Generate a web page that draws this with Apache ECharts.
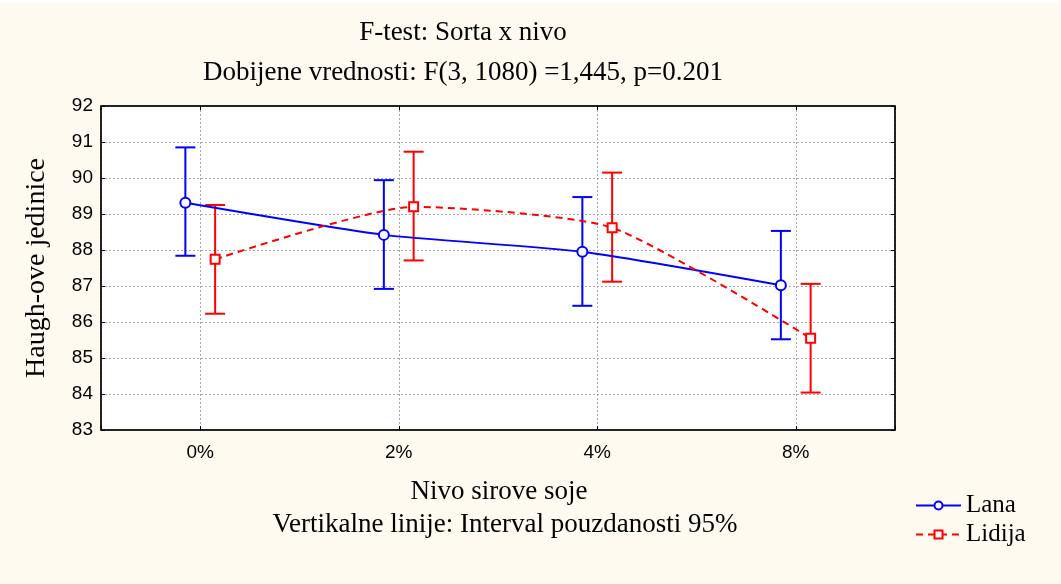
<!DOCTYPE html>
<html>
<head>
<meta charset="utf-8">
<script src="https://cdn.jsdelivr.net/npm/echarts@6/dist/echarts.min.js"></script>
<style>
  html, body { margin: 0; padding: 0; background: #FFFAF0; }
  #chart { width: 1061px; height: 584px; }
</style>
</head>
<body>
<div id="chart"></div>
<script>
// nivo sirove soje (kategorije na x osi)
const levels = ['0%', '2%', '4%', '8%']
const series1 = 'Lana'
const series2 = 'Lidija'
// srednje vrednosti i granice intervala pouzdanosti 95%
const lanaMean = [89.31, 88.42, 87.95, 87.02]
const lanaLow = [87.84, 86.92, 86.45, 85.52]
const lanaHigh = [90.85, 89.94, 89.47, 88.53]
const lidijaMean = [87.74, 89.20, 88.62, 85.55]
const lidijaLow = [86.23, 87.71, 87.12, 84.04]
const lidijaHigh = [89.25, 90.73, 90.15, 87.06]

const yTicks = [83, 84, 85, 86, 87, 88, 89, 90, 91, 92]

// pomeraj tacaka levo/desno od kategorije
const shift = 0.075

const serif = 'Liberation Serif'
const sans = 'Liberation Sans'
const BLUE = '#0000FF'
const RED = '#FF0000'

const chart = echarts.init(document.getElementById('chart'))

function errorBars(color) {
  return function (params, api) {
    const x = api.value(0)
    const lo = api.coord([x, api.value(1)])
    const hi = api.coord([x, api.value(2)])
    const cap = 10
    const style = { stroke: color, lineWidth: 2, fill: null }
    return {
      type: 'group',
      children: [
        { type: 'line', shape: { x1: hi[0], y1: hi[1], x2: lo[0], y2: lo[1] }, style },
        { type: 'line', shape: { x1: hi[0] - cap, y1: hi[1], x2: hi[0] + cap, y2: hi[1] }, style },
        { type: 'line', shape: { x1: lo[0] - cap, y1: lo[1], x2: lo[0] + cap, y2: lo[1] }, style },
      ],
    }
  }
}

const axisLine = { show: true, onZero: false, lineStyle: { color: '#000', width: 1.5 } }
const axisTick = { show: true, inside: true, length: 4, lineStyle: { color: '#000', width: 1 } }
const gridLine = { show: true, lineStyle: { color: '#A8A8A8', type: [2, 2], width: 1 } }
const font = '27px "' + serif + '"'

chart.setOption({
  backgroundColor: '#FFFAF0',
  animation: false,
  grid: {
    left: 101, right: 166, top: 106, bottom: 154,
    show: true, backgroundColor: '#FFFFFF', borderColor: '#000', borderWidth: 1,
  },
  graphic: [
    { type: 'rect', shape: { x: 0, y: 0, width: 1061, height: 3 }, style: { fill: '#FFFFFF' } },
    { type: 'text', x: 463, y: 33, style: { text: 'F-test: Sorta x nivo', font, fill: '#000', align: 'center', verticalAlign: 'middle' } },
    { type: 'text', x: 463, y: 73, style: { text: 'Dobijene vrednosti: F(3, 1080) =1,445, p=0.201', font, fill: '#000', align: 'center', verticalAlign: 'middle' } },
    { type: 'text', x: 499, y: 492, style: { text: 'Nivo sirove soje', font, fill: '#000', align: 'center', verticalAlign: 'middle' } },
    { type: 'text', x: 505, y: 525, style: { text: 'Vertikalne linije: Interval pouzdanosti 95%', font, fill: '#000', align: 'center', verticalAlign: 'middle' } },
    { type: 'text', x: 37, y: 268, rotation: Math.PI / 2, style: { text: 'Haugh-ove jedinice', font: '28px "' + serif + '"', fill: '#000', align: 'center', verticalAlign: 'middle' } },
  ],
  legend: {
    data: [series1, series2],
    orient: 'vertical',
    left: 910,
    top: 488,
    itemWidth: 45,
    itemHeight: 10,
    itemGap: 4,
    textStyle: { fontFamily: serif, fontSize: 25, color: '#000' },
  },
  xAxis: [
    {
      type: 'value', min: -0.5, max: 3.5, splitNumber: 4, position: 'bottom',
      axisLine, axisTick,
      axisLabel: {
        margin: 13, fontFamily: sans, fontSize: 19, color: '#000',
        formatter: (v) => (Number.isInteger(v) && levels[v] !== undefined ? levels[v] : ''),
      },
      splitLine: gridLine,
    },
    {
      type: 'value', min: -0.5, max: 3.5, splitNumber: 4, position: 'top',
      axisLine, axisTick,
      axisLabel: { show: false }, splitLine: { show: false },
    },
  ],
  yAxis: [
    {
      type: 'value', min: yTicks[0], max: yTicks[yTicks.length - 1], interval: 1, position: 'left',
      axisLine, axisTick,
      axisLabel: { margin: 8, fontFamily: sans, fontSize: 19, color: '#000' },
      splitLine: gridLine,
    },
    {
      type: 'value', min: yTicks[0], max: yTicks[yTicks.length - 1], interval: 1, position: 'right',
      axisLine, axisTick,
      axisLabel: { show: false }, splitLine: { show: false },
    },
  ],
  series: [
    {
      type: 'custom', name: 'ci-lana', z: 2,
      renderItem: errorBars(BLUE),
      encode: { x: 0, y: [1, 2] },
      data: levels.map((_, i) => [i - shift, lanaLow[i], lanaHigh[i]]),
    },
    {
      type: 'custom', name: 'ci-lidija', z: 2,
      renderItem: errorBars(RED),
      encode: { x: 0, y: [1, 2] },
      data: levels.map((_, i) => [i + shift, lidijaLow[i], lidijaHigh[i]]),
    },
    {
      name: series1, type: 'line', z: 3, smooth: 0.2,
      symbol: 'circle', symbolSize: 10,
      itemStyle: { color: '#FFFFFF', borderColor: BLUE, borderWidth: 2 },
      lineStyle: { color: BLUE, width: 2 },
      data: levels.map((_, i) => [i - shift, lanaMean[i]]),
    },
    {
      name: series2, type: 'line', z: 3, smooth: 0.2,
      symbol: 'rect', symbolSize: 9,
      itemStyle: { color: '#FFFFFF', borderColor: RED, borderWidth: 2 },
      lineStyle: { color: RED, width: 2, type: [7, 5] },
      data: levels.map((_, i) => [i + shift, lidijaMean[i]]),
    },
  ],
})
</script>
</body>
</html>
